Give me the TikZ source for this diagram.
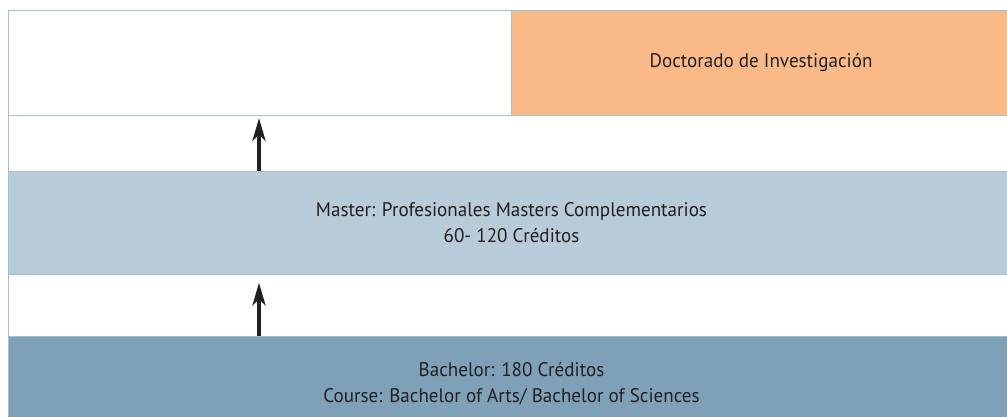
\documentclass[tikz,border=0pt]{standalone}
\usepackage{fontspec}
\setmainfont{PT Sans}[FakeStretch=0.97]
\usetikzlibrary{arrows.meta}
\definecolor{framecol}{HTML}{A6BDD0}
\definecolor{doccol}{HTML}{F9BA87}
\definecolor{mastercol}{HTML}{B8CBD9}
\definecolor{bachcol}{HTML}{7FA1B8}
\definecolor{txtcol}{HTML}{231F20}
\tikzset{
  row/.style={draw=framecol,line width=.7pt,inner sep=0pt,outer sep=0pt,anchor=north west,
    text=txtcol,font=\fontsize{14}{18.4}\selectfont,align=center},
  upar/.style={-{Stealth[length=5.7mm,width=3.3mm,inset=1.6mm]},line width=2.3pt,txtcol}
}
\begin{document}
\begin{tikzpicture}
\clip(0,0)rectangle(25.175,10.425);
\fill[white](0,0)rectangle(25.175,10.425);
%top row
\node[row,minimum width=12.5625cm,minimum height=2.625cm](blank)at(.2125,10.175){};
\node[row,fill=doccol,minimum width=12.8cm,minimum height=2.625cm](doctor)at(12.775,10.175){\hspace*{-.3cm}Doctorado de Investigación};
%gaps and bands
\node[row,minimum width=25.15cm,minimum height=1.4cm](gapa)at(.2125,7.55){};
\node[row,fill=mastercol,minimum width=25.15cm,minimum height=2.575cm](master)at(.2125,6.15){Master: Profesionales Masters Complementarios\\60- 120 Créditos};
\node[row,minimum width=25.15cm,minimum height=1.55cm](gapb)at(.2125,3.575){};
\node[row,fill=bachcol,minimum width=25.15cm,minimum height=2.4cm](bachelor)at(.2125,2.025){Bachelor: 180 Créditos\\Course: Bachelor of Arts/ Bachelor of Sciences};
%arrows
\coordinate(ax)at(6.475,0);
\draw[upar,shorten >=.08cm](master.north-|ax)--(blank.south-|ax);
\draw[upar,shorten >=.22cm](bachelor.north-|ax)--(master.south-|ax);
\end{tikzpicture}
\end{document}
